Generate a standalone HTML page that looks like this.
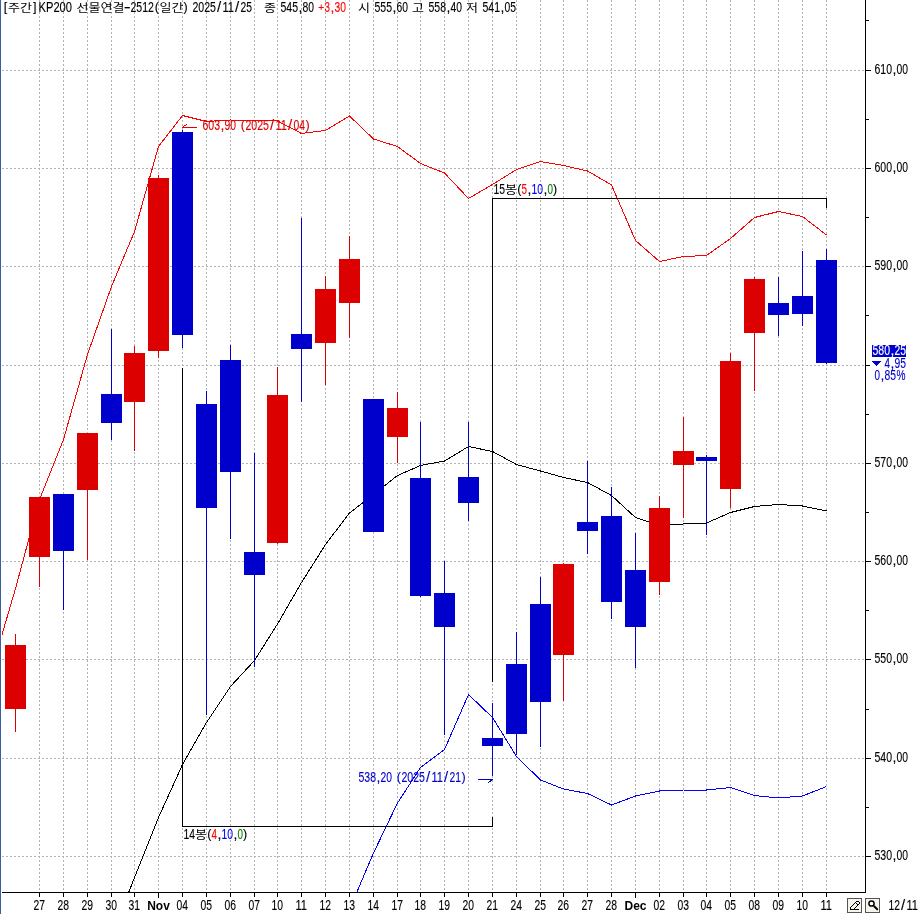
<!DOCTYPE html>
<html lang="ko"><head><meta charset="utf-8"><title>KP200 선물연결 주간 차트</title>
<style>html,body{margin:0;padding:0;background:#fff}body{width:920px;height:914px;overflow:hidden}svg{display:block}text{font-family:"Liberation Sans","Noto Sans CJK KR",sans-serif;font-size:14px}.k{font-family:"Liberation Sans","Noto Sans CJK KR",sans-serif;font-size:11.5px}.b{font-weight:bold;font-size:12px}</style></head><body>
<svg width="920" height="914" viewBox="0 0 920 914">
<rect width="920" height="914" fill="#fff"/>
<defs><clipPath id="cp"><rect x="2" y="0" width="863" height="892"/></clipPath></defs>
<g shape-rendering="crispEdges">
<rect x="0" y="0" width="1" height="914" fill="#3b5fa3"/>
<g stroke="#b2b2b2" stroke-width="1" stroke-dasharray="2 2" fill="none">
<line x1="2" y1="70.5" x2="865" y2="70.5"/>
<line x1="2" y1="168.5" x2="865" y2="168.5"/>
<line x1="2" y1="266.5" x2="865" y2="266.5"/>
<line x1="2" y1="365.5" x2="865" y2="365.5"/>
<line x1="2" y1="463.5" x2="865" y2="463.5"/>
<line x1="2" y1="561.5" x2="865" y2="561.5"/>
<line x1="2" y1="659.5" x2="865" y2="659.5"/>
<line x1="2" y1="758.5" x2="865" y2="758.5"/>
<line x1="2" y1="856.5" x2="865" y2="856.5"/>
<line x1="39.5" y1="0" x2="39.5" y2="892"/>
<line x1="63.5" y1="0" x2="63.5" y2="892"/>
<line x1="87.5" y1="0" x2="87.5" y2="892"/>
<line x1="111.5" y1="0" x2="111.5" y2="892"/>
<line x1="134.5" y1="0" x2="134.5" y2="892"/>
<line x1="158.5" y1="0" x2="158.5" y2="892"/>
<line x1="182.5" y1="0" x2="182.5" y2="892"/>
<line x1="206.5" y1="0" x2="206.5" y2="892"/>
<line x1="230.5" y1="0" x2="230.5" y2="892"/>
<line x1="254.5" y1="0" x2="254.5" y2="892"/>
<line x1="277.5" y1="0" x2="277.5" y2="892"/>
<line x1="301.5" y1="0" x2="301.5" y2="892"/>
<line x1="325.5" y1="0" x2="325.5" y2="892"/>
<line x1="349.5" y1="0" x2="349.5" y2="892"/>
<line x1="373.5" y1="0" x2="373.5" y2="892"/>
<line x1="397.5" y1="0" x2="397.5" y2="892"/>
<line x1="420.5" y1="0" x2="420.5" y2="892"/>
<line x1="444.5" y1="0" x2="444.5" y2="892"/>
<line x1="468.5" y1="0" x2="468.5" y2="892"/>
<line x1="492.5" y1="0" x2="492.5" y2="892"/>
<line x1="516.5" y1="0" x2="516.5" y2="892"/>
<line x1="540.5" y1="0" x2="540.5" y2="892"/>
<line x1="563.5" y1="0" x2="563.5" y2="892"/>
<line x1="587.5" y1="0" x2="587.5" y2="892"/>
<line x1="611.5" y1="0" x2="611.5" y2="892"/>
<line x1="635.5" y1="0" x2="635.5" y2="892"/>
<line x1="659.5" y1="0" x2="659.5" y2="892"/>
<line x1="683.5" y1="0" x2="683.5" y2="892"/>
<line x1="706.5" y1="0" x2="706.5" y2="892"/>
<line x1="730.5" y1="0" x2="730.5" y2="892"/>
<line x1="754.5" y1="0" x2="754.5" y2="892"/>
<line x1="778.5" y1="0" x2="778.5" y2="892"/>
<line x1="802.5" y1="0" x2="802.5" y2="892"/>
<line x1="826.5" y1="0" x2="826.5" y2="892"/>
</g>
<g clip-path="url(#cp)">
<polyline points="-8.5,670.5 15.5,588.5 39.5,499.5 63.5,439.5 87.5,354.5 111.5,286.5 134.5,231.5 158.5,146.5 182.5,115.5 206.5,121.5 230.5,120.0 254.5,120.5 277.5,121.0 301.5,133.5 325.5,130.5 349.5,116.0 373.5,139.0 397.5,146.5 420.5,163.5 444.5,173.0 468.5,198.5 492.5,184.5 516.5,169.5 540.5,161.5 563.5,165.5 587.5,171.0 611.5,185.0 635.5,240.5 659.5,261.5 683.5,256.5 706.5,255.5 730.5,238.5 754.5,217.5 778.5,211.5 802.5,216.5 826.5,235.0" fill="none" stroke="#ff0000" stroke-width="1" clip-path="url(#cp)"/>
<polyline points="111.5,936.5 134.5,877.5 158.5,817.5 182.5,764.5 206.5,722.5 230.5,686.5 254.5,660.5 277.5,624.0 301.5,582.5 325.5,544.5 349.5,513.0 373.5,494.5 397.5,475.5 420.5,465.5 444.5,461.0 468.5,446.5 492.5,451.5 516.5,464.5 540.5,471.0 563.5,477.5 587.5,482.5 611.5,495.5 635.5,517.5 659.5,525.5 683.5,524.0 706.5,523.0 730.5,512.5 754.5,506.5 778.5,504.5 802.5,506.0 826.5,511.0" fill="none" stroke="#000" stroke-width="1" clip-path="url(#cp)"/>
<polyline points="349.5,909.5 373.5,853.0 397.5,803.0 420.5,767.5 444.5,749.5 468.5,694.5 492.5,717.5 516.5,756.5 540.5,780.0 563.5,789.0 587.5,793.5 611.5,805.0 635.5,796.0 659.5,791.0 683.5,790.0 706.5,790.0 730.5,787.5 754.5,795.5 778.5,798.0 802.5,796.0 826.5,786.5" fill="none" stroke="#0000ff" stroke-width="1" clip-path="url(#cp)"/>
</g>
<rect x="15" y="634" width="1" height="98" fill="#dd0000"/>
<rect x="5" y="645" width="21" height="64" fill="#dd0000"/>
<rect x="39" y="497" width="1" height="90" fill="#dd0000"/>
<rect x="29" y="497" width="21" height="60" fill="#dd0000"/>
<rect x="63" y="494" width="1" height="116" fill="#0000cc"/>
<rect x="53" y="494" width="21" height="57" fill="#0000cc"/>
<rect x="87" y="433" width="1" height="127" fill="#dd0000"/>
<rect x="77" y="433" width="21" height="57" fill="#dd0000"/>
<rect x="111" y="329" width="1" height="111" fill="#0000cc"/>
<rect x="101" y="394" width="21" height="29" fill="#0000cc"/>
<rect x="134" y="346" width="1" height="105" fill="#dd0000"/>
<rect x="124" y="353" width="21" height="49" fill="#dd0000"/>
<rect x="158" y="175" width="1" height="183" fill="#dd0000"/>
<rect x="148" y="178" width="21" height="173" fill="#dd0000"/>
<rect x="182" y="130" width="1" height="218" fill="#0000cc"/>
<rect x="172" y="132" width="21" height="203" fill="#0000cc"/>
<rect x="206" y="391" width="1" height="324" fill="#0000cc"/>
<rect x="196" y="404" width="21" height="104" fill="#0000cc"/>
<rect x="230" y="345" width="1" height="194" fill="#0000cc"/>
<rect x="220" y="360" width="21" height="112" fill="#0000cc"/>
<rect x="254" y="453" width="1" height="214" fill="#0000cc"/>
<rect x="244" y="552" width="21" height="23" fill="#0000cc"/>
<rect x="277" y="367" width="1" height="177" fill="#dd0000"/>
<rect x="267" y="395" width="21" height="148" fill="#dd0000"/>
<rect x="301" y="218" width="1" height="184" fill="#0000cc"/>
<rect x="291" y="334" width="21" height="15" fill="#0000cc"/>
<rect x="325" y="276" width="1" height="109" fill="#dd0000"/>
<rect x="315" y="289" width="21" height="54" fill="#dd0000"/>
<rect x="349" y="236" width="1" height="102" fill="#dd0000"/>
<rect x="339" y="259" width="21" height="44" fill="#dd0000"/>
<rect x="373" y="399" width="1" height="133" fill="#0000cc"/>
<rect x="363" y="399" width="21" height="133" fill="#0000cc"/>
<rect x="397" y="392" width="1" height="71" fill="#dd0000"/>
<rect x="387" y="408" width="21" height="29" fill="#dd0000"/>
<rect x="420" y="422" width="1" height="175" fill="#0000cc"/>
<rect x="410" y="478" width="21" height="118" fill="#0000cc"/>
<rect x="444" y="561" width="1" height="174" fill="#0000cc"/>
<rect x="434" y="593" width="21" height="34" fill="#0000cc"/>
<rect x="468" y="422" width="1" height="99" fill="#0000cc"/>
<rect x="458" y="477" width="21" height="26" fill="#0000cc"/>
<rect x="492" y="703" width="1" height="73" fill="#0000cc"/>
<rect x="482" y="738" width="21" height="8" fill="#0000cc"/>
<rect x="516" y="632" width="1" height="123" fill="#0000cc"/>
<rect x="506" y="664" width="21" height="70" fill="#0000cc"/>
<rect x="540" y="577" width="1" height="170" fill="#0000cc"/>
<rect x="530" y="604" width="21" height="98" fill="#0000cc"/>
<rect x="563" y="563" width="1" height="138" fill="#dd0000"/>
<rect x="553" y="564" width="21" height="91" fill="#dd0000"/>
<rect x="587" y="461" width="1" height="93" fill="#0000cc"/>
<rect x="577" y="522" width="21" height="9" fill="#0000cc"/>
<rect x="611" y="487" width="1" height="132" fill="#0000cc"/>
<rect x="601" y="516" width="21" height="86" fill="#0000cc"/>
<rect x="635" y="533" width="1" height="135" fill="#0000cc"/>
<rect x="625" y="570" width="21" height="57" fill="#0000cc"/>
<rect x="659" y="496" width="1" height="99" fill="#dd0000"/>
<rect x="649" y="508" width="21" height="74" fill="#dd0000"/>
<rect x="683" y="417" width="1" height="101" fill="#dd0000"/>
<rect x="673" y="451" width="21" height="14" fill="#dd0000"/>
<rect x="706" y="455" width="1" height="80" fill="#0000cc"/>
<rect x="696" y="457" width="21" height="4" fill="#0000cc"/>
<rect x="730" y="353" width="1" height="155" fill="#dd0000"/>
<rect x="720" y="361" width="21" height="128" fill="#dd0000"/>
<rect x="754" y="277" width="1" height="114" fill="#dd0000"/>
<rect x="744" y="279" width="21" height="54" fill="#dd0000"/>
<rect x="778" y="277" width="1" height="59" fill="#0000cc"/>
<rect x="768" y="303" width="21" height="12" fill="#0000cc"/>
<rect x="802" y="251" width="1" height="75" fill="#0000cc"/>
<rect x="792" y="296" width="21" height="18" fill="#0000cc"/>
<rect x="826" y="249" width="1" height="115" fill="#0000cc"/>
<rect x="816" y="260" width="21" height="103" fill="#0000cc"/>
<g fill="#000">
<rect x="182" y="368" width="1" height="459"/>
<rect x="182" y="826" width="311" height="1"/>
<rect x="492" y="817" width="1" height="10"/>
<rect x="492" y="198" width="1" height="484"/>
<rect x="492" y="198" width="335" height="1"/>
<rect x="826" y="198" width="1" height="10"/>
<rect x="865" y="0" width="1" height="893"/>
<rect x="2" y="892" width="864" height="1"/>
<rect x="866" y="20" width="3" height="1"/>
<rect x="866" y="70" width="5" height="1"/>
<rect x="866" y="119" width="3" height="1"/>
<rect x="866" y="168" width="5" height="1"/>
<rect x="866" y="217" width="3" height="1"/>
<rect x="866" y="266" width="5" height="1"/>
<rect x="866" y="315" width="3" height="1"/>
<rect x="866" y="365" width="4" height="1"/>
<rect x="866" y="414" width="3" height="1"/>
<rect x="866" y="463" width="5" height="1"/>
<rect x="866" y="512" width="3" height="1"/>
<rect x="866" y="561" width="5" height="1"/>
<rect x="866" y="610" width="3" height="1"/>
<rect x="866" y="659" width="5" height="1"/>
<rect x="866" y="709" width="3" height="1"/>
<rect x="866" y="758" width="5" height="1"/>
<rect x="866" y="807" width="3" height="1"/>
<rect x="866" y="856" width="5" height="1"/>
<rect x="39" y="893" width="1" height="4"/>
<rect x="63" y="893" width="1" height="4"/>
<rect x="87" y="893" width="1" height="4"/>
<rect x="111" y="893" width="1" height="4"/>
<rect x="134" y="893" width="1" height="4"/>
<rect x="158" y="893" width="1" height="5"/>
<rect x="182" y="893" width="1" height="4"/>
<rect x="206" y="893" width="1" height="4"/>
<rect x="230" y="893" width="1" height="4"/>
<rect x="254" y="893" width="1" height="4"/>
<rect x="277" y="893" width="1" height="4"/>
<rect x="301" y="893" width="1" height="4"/>
<rect x="325" y="893" width="1" height="4"/>
<rect x="349" y="893" width="1" height="4"/>
<rect x="373" y="893" width="1" height="4"/>
<rect x="397" y="893" width="1" height="4"/>
<rect x="420" y="893" width="1" height="4"/>
<rect x="444" y="893" width="1" height="4"/>
<rect x="468" y="893" width="1" height="4"/>
<rect x="492" y="893" width="1" height="4"/>
<rect x="516" y="893" width="1" height="4"/>
<rect x="540" y="893" width="1" height="4"/>
<rect x="563" y="893" width="1" height="4"/>
<rect x="587" y="893" width="1" height="4"/>
<rect x="611" y="893" width="1" height="4"/>
<rect x="635" y="893" width="1" height="5"/>
<rect x="659" y="893" width="1" height="4"/>
<rect x="683" y="893" width="1" height="4"/>
<rect x="706" y="893" width="1" height="4"/>
<rect x="730" y="893" width="1" height="4"/>
<rect x="754" y="893" width="1" height="4"/>
<rect x="778" y="893" width="1" height="4"/>
<rect x="802" y="893" width="1" height="4"/>
<rect x="826" y="893" width="1" height="4"/>
</g>
<rect x="872" y="345" width="34" height="12" fill="#0000cc"/>
<path d="M872 361h9v1h-1v1h-1v1h-1v1h-1v1h-1v-1h-1v-1h-1v-1h-1v-1h-1z" fill="#0000cc"/>
<g fill="#dd0000"><rect x="182" y="127" width="15" height="1"/><rect x="183" y="126" width="1" height="1"/><rect x="184" y="125" width="2" height="1"/><rect x="186" y="124" width="1" height="1"/></g>
<g fill="#0000cc"><rect x="478" y="779" width="15" height="1"/><rect x="490" y="780" width="2" height="1"/><rect x="489" y="781" width="2" height="1"/><rect x="488" y="782" width="1" height="1"/></g>
<rect x="847" y="898" width="15" height="15" fill="#555"/>
<rect x="848" y="899" width="13" height="13" fill="#f4f3ec"/>
<rect x="865" y="898" width="15" height="15" fill="#555"/>
<rect x="866" y="899" width="13" height="13" fill="#f4f3ec"/>
</g>
<g fill="none" stroke="#000" stroke-width="1" shape-rendering="crispEdges">
<path d="M850.5 909.5H859M850.5 909.5V907.5L856.5 901.5H858.5L859.5 902.5V903.5L853.5 909.5M855.5 902.5L858.5 905.5"/>
</g>
<circle cx="871.5" cy="903.5" r="2.6" fill="#fff" stroke="#000" stroke-width="1.5"/>
<path d="M874.2 906.2L877.2 909.2" stroke="#000" stroke-width="2" stroke-linecap="round"/>
<text><tspan x="3.7" y="10.9" stroke="#000" stroke-width="0.12" style="font-size:12.5px">[</tspan><tspan x="8" y="11.5" textLength="24" lengthAdjust="spacingAndGlyphs" class="k">주간</tspan><tspan x="32.9" y="10.9" stroke="#000" stroke-width="0.12" style="font-size:12.5px">]</tspan><tspan x="38.5" y="12" textLength="33.5" lengthAdjust="spacingAndGlyphs" stroke="#000" stroke-width="0.12">KP200</tspan> <tspan x="76.5" y="11.5" textLength="48" lengthAdjust="spacingAndGlyphs" class="k">선물연결</tspan><tspan x="123.7" y="12" textLength="7" lengthAdjust="spacingAndGlyphs" stroke="#000" stroke-width="0.12">-</tspan><tspan x="130.5" y="12" textLength="23.5" lengthAdjust="spacingAndGlyphs" stroke="#000" stroke-width="0.12">2512</tspan><tspan x="154.7" y="10.9" stroke="#000" stroke-width="0.12" style="font-size:12.5px">(</tspan><tspan x="159.5" y="11.5" textLength="24" lengthAdjust="spacingAndGlyphs" class="k">일간</tspan><tspan x="183.6" y="10.9" stroke="#000" stroke-width="0.12" style="font-size:12.5px">)</tspan> <tspan x="192.5" y="12" textLength="23.5" lengthAdjust="spacingAndGlyphs" stroke="#000" stroke-width="0.12">2025</tspan><tspan x="216.9" y="12" stroke="#000" stroke-width="0.12" style="font-size:15px">/</tspan><tspan x="222.5" y="12" textLength="11.5" lengthAdjust="spacingAndGlyphs" stroke="#000" stroke-width="0.12">11</tspan><tspan x="234.9" y="12" stroke="#000" stroke-width="0.12" style="font-size:15px">/</tspan><tspan x="240.5" y="12" textLength="11.5" lengthAdjust="spacingAndGlyphs" stroke="#000" stroke-width="0.12">25</tspan>   <tspan x="264" y="11.5" textLength="12" lengthAdjust="spacingAndGlyphs" class="k">종</tspan> <tspan x="280.5" y="12" textLength="17.5" lengthAdjust="spacingAndGlyphs" stroke="#000" stroke-width="0.12">545</tspan><tspan x="298.5" y="12" stroke="#000" stroke-width="0.12">,</tspan><tspan x="302.5" y="12" textLength="11.5" lengthAdjust="spacingAndGlyphs" stroke="#000" stroke-width="0.12">80</tspan> <tspan x="318.2" y="11" fill="#ff0000" stroke="#ff0000" stroke-width="0.12" style="font-size:10px">+</tspan><tspan x="324.5" y="12" textLength="5.5" lengthAdjust="spacingAndGlyphs" fill="#ff0000" stroke="#ff0000" stroke-width="0.12">3</tspan><tspan x="330.5" y="12" fill="#ff0000" stroke="#ff0000" stroke-width="0.12">,</tspan><tspan x="334.5" y="12" textLength="11.5" lengthAdjust="spacingAndGlyphs" fill="#ff0000" stroke="#ff0000" stroke-width="0.12">30</tspan>   <tspan x="358" y="11.5" textLength="12" lengthAdjust="spacingAndGlyphs" class="k">시</tspan> <tspan x="374.5" y="12" textLength="17.5" lengthAdjust="spacingAndGlyphs" stroke="#000" stroke-width="0.12">555</tspan><tspan x="392.5" y="12" stroke="#000" stroke-width="0.12">,</tspan><tspan x="396.5" y="12" textLength="11.5" lengthAdjust="spacingAndGlyphs" stroke="#000" stroke-width="0.12">60</tspan> <tspan x="412" y="11.5" textLength="12" lengthAdjust="spacingAndGlyphs" class="k">고</tspan> <tspan x="428.5" y="12" textLength="17.5" lengthAdjust="spacingAndGlyphs" stroke="#000" stroke-width="0.12">558</tspan><tspan x="446.5" y="12" stroke="#000" stroke-width="0.12">,</tspan><tspan x="450.5" y="12" textLength="11.5" lengthAdjust="spacingAndGlyphs" stroke="#000" stroke-width="0.12">40</tspan> <tspan x="466" y="11.5" textLength="12" lengthAdjust="spacingAndGlyphs" class="k">저</tspan> <tspan x="482.5" y="12" textLength="17.5" lengthAdjust="spacingAndGlyphs" stroke="#000" stroke-width="0.12">541</tspan><tspan x="500.5" y="12" stroke="#000" stroke-width="0.12">,</tspan><tspan x="504.5" y="12" textLength="11.5" lengthAdjust="spacingAndGlyphs" stroke="#000" stroke-width="0.12">05</tspan></text>
<text><tspan x="874.5" y="74" textLength="17.5" lengthAdjust="spacingAndGlyphs" stroke="#000" stroke-width="0.12">610</tspan><tspan x="892.5" y="74" stroke="#000" stroke-width="0.12">,</tspan><tspan x="896.5" y="74" textLength="11.5" lengthAdjust="spacingAndGlyphs" stroke="#000" stroke-width="0.12">00</tspan></text>
<text><tspan x="874.5" y="172" textLength="17.5" lengthAdjust="spacingAndGlyphs" stroke="#000" stroke-width="0.12">600</tspan><tspan x="892.5" y="172" stroke="#000" stroke-width="0.12">,</tspan><tspan x="896.5" y="172" textLength="11.5" lengthAdjust="spacingAndGlyphs" stroke="#000" stroke-width="0.12">00</tspan></text>
<text><tspan x="874.5" y="270" textLength="17.5" lengthAdjust="spacingAndGlyphs" stroke="#000" stroke-width="0.12">590</tspan><tspan x="892.5" y="270" stroke="#000" stroke-width="0.12">,</tspan><tspan x="896.5" y="270" textLength="11.5" lengthAdjust="spacingAndGlyphs" stroke="#000" stroke-width="0.12">00</tspan></text>
<text><tspan x="874.5" y="467" textLength="17.5" lengthAdjust="spacingAndGlyphs" stroke="#000" stroke-width="0.12">570</tspan><tspan x="892.5" y="467" stroke="#000" stroke-width="0.12">,</tspan><tspan x="896.5" y="467" textLength="11.5" lengthAdjust="spacingAndGlyphs" stroke="#000" stroke-width="0.12">00</tspan></text>
<text><tspan x="874.5" y="565" textLength="17.5" lengthAdjust="spacingAndGlyphs" stroke="#000" stroke-width="0.12">560</tspan><tspan x="892.5" y="565" stroke="#000" stroke-width="0.12">,</tspan><tspan x="896.5" y="565" textLength="11.5" lengthAdjust="spacingAndGlyphs" stroke="#000" stroke-width="0.12">00</tspan></text>
<text><tspan x="874.5" y="663" textLength="17.5" lengthAdjust="spacingAndGlyphs" stroke="#000" stroke-width="0.12">550</tspan><tspan x="892.5" y="663" stroke="#000" stroke-width="0.12">,</tspan><tspan x="896.5" y="663" textLength="11.5" lengthAdjust="spacingAndGlyphs" stroke="#000" stroke-width="0.12">00</tspan></text>
<text><tspan x="874.5" y="762" textLength="17.5" lengthAdjust="spacingAndGlyphs" stroke="#000" stroke-width="0.12">540</tspan><tspan x="892.5" y="762" stroke="#000" stroke-width="0.12">,</tspan><tspan x="896.5" y="762" textLength="11.5" lengthAdjust="spacingAndGlyphs" stroke="#000" stroke-width="0.12">00</tspan></text>
<text><tspan x="874.5" y="860" textLength="17.5" lengthAdjust="spacingAndGlyphs" stroke="#000" stroke-width="0.12">530</tspan><tspan x="892.5" y="860" stroke="#000" stroke-width="0.12">,</tspan><tspan x="896.5" y="860" textLength="11.5" lengthAdjust="spacingAndGlyphs" stroke="#000" stroke-width="0.12">00</tspan></text>
<defs><clipPath id="bx"><rect x="872" y="345" width="34" height="12"/></clipPath></defs>
<text clip-path="url(#bx)"><tspan x="872.5" y="355" textLength="17.5" lengthAdjust="spacingAndGlyphs" fill="#fff" stroke="#fff" stroke-width="0.12">580</tspan><tspan x="890.5" y="355" fill="#fff" stroke="#fff" stroke-width="0.12">,</tspan><tspan x="894.5" y="355" textLength="11.5" lengthAdjust="spacingAndGlyphs" fill="#fff" stroke="#fff" stroke-width="0.12">25</tspan></text>
<text><tspan x="884.5" y="368" textLength="5.5" lengthAdjust="spacingAndGlyphs" fill="#0000cc" stroke="#0000cc" stroke-width="0.12">4</tspan><tspan x="890.5" y="368" fill="#0000cc" stroke="#0000cc" stroke-width="0.12">,</tspan><tspan x="894.5" y="368" textLength="11.5" lengthAdjust="spacingAndGlyphs" fill="#0000cc" stroke="#0000cc" stroke-width="0.12">95</tspan></text>
<text><tspan x="874.5" y="380" textLength="5.5" lengthAdjust="spacingAndGlyphs" fill="#0000cc" stroke="#0000cc" stroke-width="0.12">0</tspan><tspan x="880.5" y="380" fill="#0000cc" stroke="#0000cc" stroke-width="0.12">,</tspan><tspan x="884.5" y="380" textLength="11.5" lengthAdjust="spacingAndGlyphs" fill="#0000cc" stroke="#0000cc" stroke-width="0.12">85</tspan><tspan x="896.5" y="380" textLength="9" lengthAdjust="spacingAndGlyphs" fill="#0000cc" stroke="#0000cc" stroke-width="0.12">%</tspan></text>
<text><tspan x="33.5" y="910" textLength="11.5" lengthAdjust="spacingAndGlyphs" stroke="#000" stroke-width="0.12">27</tspan></text>
<text><tspan x="57.5" y="910" textLength="11.5" lengthAdjust="spacingAndGlyphs" stroke="#000" stroke-width="0.12">28</tspan></text>
<text><tspan x="81.5" y="910" textLength="11.5" lengthAdjust="spacingAndGlyphs" stroke="#000" stroke-width="0.12">29</tspan></text>
<text><tspan x="105.5" y="910" textLength="11.5" lengthAdjust="spacingAndGlyphs" stroke="#000" stroke-width="0.12">30</tspan></text>
<text><tspan x="128.5" y="910" textLength="11.5" lengthAdjust="spacingAndGlyphs" stroke="#000" stroke-width="0.12">31</tspan></text>
<text x="158.5" y="909.5" class="b" text-anchor="middle">Nov</text>
<text><tspan x="176.5" y="910" textLength="11.5" lengthAdjust="spacingAndGlyphs" stroke="#000" stroke-width="0.12">04</tspan></text>
<text><tspan x="200.5" y="910" textLength="11.5" lengthAdjust="spacingAndGlyphs" stroke="#000" stroke-width="0.12">05</tspan></text>
<text><tspan x="224.5" y="910" textLength="11.5" lengthAdjust="spacingAndGlyphs" stroke="#000" stroke-width="0.12">06</tspan></text>
<text><tspan x="248.5" y="910" textLength="11.5" lengthAdjust="spacingAndGlyphs" stroke="#000" stroke-width="0.12">07</tspan></text>
<text><tspan x="271.5" y="910" textLength="11.5" lengthAdjust="spacingAndGlyphs" stroke="#000" stroke-width="0.12">10</tspan></text>
<text><tspan x="295.5" y="910" textLength="11.5" lengthAdjust="spacingAndGlyphs" stroke="#000" stroke-width="0.12">11</tspan></text>
<text><tspan x="319.5" y="910" textLength="11.5" lengthAdjust="spacingAndGlyphs" stroke="#000" stroke-width="0.12">12</tspan></text>
<text><tspan x="343.5" y="910" textLength="11.5" lengthAdjust="spacingAndGlyphs" stroke="#000" stroke-width="0.12">13</tspan></text>
<text><tspan x="367.5" y="910" textLength="11.5" lengthAdjust="spacingAndGlyphs" stroke="#000" stroke-width="0.12">14</tspan></text>
<text><tspan x="391.5" y="910" textLength="11.5" lengthAdjust="spacingAndGlyphs" stroke="#000" stroke-width="0.12">17</tspan></text>
<text><tspan x="414.5" y="910" textLength="11.5" lengthAdjust="spacingAndGlyphs" stroke="#000" stroke-width="0.12">18</tspan></text>
<text><tspan x="438.5" y="910" textLength="11.5" lengthAdjust="spacingAndGlyphs" stroke="#000" stroke-width="0.12">19</tspan></text>
<text><tspan x="462.5" y="910" textLength="11.5" lengthAdjust="spacingAndGlyphs" stroke="#000" stroke-width="0.12">20</tspan></text>
<text><tspan x="486.5" y="910" textLength="11.5" lengthAdjust="spacingAndGlyphs" stroke="#000" stroke-width="0.12">21</tspan></text>
<text><tspan x="510.5" y="910" textLength="11.5" lengthAdjust="spacingAndGlyphs" stroke="#000" stroke-width="0.12">24</tspan></text>
<text><tspan x="534.5" y="910" textLength="11.5" lengthAdjust="spacingAndGlyphs" stroke="#000" stroke-width="0.12">25</tspan></text>
<text><tspan x="557.5" y="910" textLength="11.5" lengthAdjust="spacingAndGlyphs" stroke="#000" stroke-width="0.12">26</tspan></text>
<text><tspan x="581.5" y="910" textLength="11.5" lengthAdjust="spacingAndGlyphs" stroke="#000" stroke-width="0.12">27</tspan></text>
<text><tspan x="605.5" y="910" textLength="11.5" lengthAdjust="spacingAndGlyphs" stroke="#000" stroke-width="0.12">28</tspan></text>
<text x="635.5" y="909.5" class="b" text-anchor="middle">Dec</text>
<text><tspan x="653.5" y="910" textLength="11.5" lengthAdjust="spacingAndGlyphs" stroke="#000" stroke-width="0.12">02</tspan></text>
<text><tspan x="677.5" y="910" textLength="11.5" lengthAdjust="spacingAndGlyphs" stroke="#000" stroke-width="0.12">03</tspan></text>
<text><tspan x="700.5" y="910" textLength="11.5" lengthAdjust="spacingAndGlyphs" stroke="#000" stroke-width="0.12">04</tspan></text>
<text><tspan x="724.5" y="910" textLength="11.5" lengthAdjust="spacingAndGlyphs" stroke="#000" stroke-width="0.12">05</tspan></text>
<text><tspan x="748.5" y="910" textLength="11.5" lengthAdjust="spacingAndGlyphs" stroke="#000" stroke-width="0.12">08</tspan></text>
<text><tspan x="772.5" y="910" textLength="11.5" lengthAdjust="spacingAndGlyphs" stroke="#000" stroke-width="0.12">09</tspan></text>
<text><tspan x="796.5" y="910" textLength="11.5" lengthAdjust="spacingAndGlyphs" stroke="#000" stroke-width="0.12">10</tspan></text>
<text><tspan x="820.5" y="910" textLength="11.5" lengthAdjust="spacingAndGlyphs" stroke="#000" stroke-width="0.12">11</tspan></text>
<text><tspan x="888.5" y="910" textLength="11.5" lengthAdjust="spacingAndGlyphs" stroke="#000" stroke-width="0.12">12</tspan><tspan x="900.9" y="910" stroke="#000" stroke-width="0.12" style="font-size:15px">/</tspan><tspan x="906.5" y="910" textLength="11.5" lengthAdjust="spacingAndGlyphs" stroke="#000" stroke-width="0.12">11</tspan></text>
<text><tspan x="202.5" y="130" textLength="17.5" lengthAdjust="spacingAndGlyphs" fill="#dd0000" stroke="#dd0000" stroke-width="0.12">603</tspan><tspan x="220.5" y="130" fill="#dd0000" stroke="#dd0000" stroke-width="0.12">,</tspan><tspan x="224.5" y="130" textLength="11.5" lengthAdjust="spacingAndGlyphs" fill="#dd0000" stroke="#dd0000" stroke-width="0.12">90</tspan> <tspan x="240.7" y="128.9" fill="#dd0000" stroke="#dd0000" stroke-width="0.12" style="font-size:12.5px">(</tspan><tspan x="245.5" y="130" textLength="23.5" lengthAdjust="spacingAndGlyphs" fill="#dd0000" stroke="#dd0000" stroke-width="0.12">2025</tspan><tspan x="269.9" y="130" fill="#dd0000" stroke="#dd0000" stroke-width="0.12" style="font-size:15px">/</tspan><tspan x="275.5" y="130" textLength="11.5" lengthAdjust="spacingAndGlyphs" fill="#dd0000" stroke="#dd0000" stroke-width="0.12">11</tspan><tspan x="287.9" y="130" fill="#dd0000" stroke="#dd0000" stroke-width="0.12" style="font-size:15px">/</tspan><tspan x="293.5" y="130" textLength="11.5" lengthAdjust="spacingAndGlyphs" fill="#dd0000" stroke="#dd0000" stroke-width="0.12">04</tspan><tspan x="305.6" y="128.9" fill="#dd0000" stroke="#dd0000" stroke-width="0.12" style="font-size:12.5px">)</tspan></text>
<text><tspan x="358.5" y="782" textLength="17.5" lengthAdjust="spacingAndGlyphs" fill="#0000cc" stroke="#0000cc" stroke-width="0.12">538</tspan><tspan x="376.5" y="782" fill="#0000cc" stroke="#0000cc" stroke-width="0.12">,</tspan><tspan x="380.5" y="782" textLength="11.5" lengthAdjust="spacingAndGlyphs" fill="#0000cc" stroke="#0000cc" stroke-width="0.12">20</tspan> <tspan x="396.7" y="780.9" fill="#0000cc" stroke="#0000cc" stroke-width="0.12" style="font-size:12.5px">(</tspan><tspan x="401.5" y="782" textLength="23.5" lengthAdjust="spacingAndGlyphs" fill="#0000cc" stroke="#0000cc" stroke-width="0.12">2025</tspan><tspan x="425.9" y="782" fill="#0000cc" stroke="#0000cc" stroke-width="0.12" style="font-size:15px">/</tspan><tspan x="431.5" y="782" textLength="11.5" lengthAdjust="spacingAndGlyphs" fill="#0000cc" stroke="#0000cc" stroke-width="0.12">11</tspan><tspan x="443.9" y="782" fill="#0000cc" stroke="#0000cc" stroke-width="0.12" style="font-size:15px">/</tspan><tspan x="449.5" y="782" textLength="11.5" lengthAdjust="spacingAndGlyphs" fill="#0000cc" stroke="#0000cc" stroke-width="0.12">21</tspan><tspan x="461.6" y="780.9" fill="#0000cc" stroke="#0000cc" stroke-width="0.12" style="font-size:12.5px">)</tspan></text>
<text><tspan x="493.5" y="194" textLength="11.5" lengthAdjust="spacingAndGlyphs" stroke="#000" stroke-width="0.12">15</tspan><tspan x="505" y="193.5" textLength="12" lengthAdjust="spacingAndGlyphs" class="k">봉</tspan><tspan x="517.2" y="192.9" stroke="#000" stroke-width="0.12" style="font-size:12.5px">(</tspan><tspan x="521.5" y="194" textLength="5.5" lengthAdjust="spacingAndGlyphs" fill="#ff0000" stroke="#ff0000" stroke-width="0.12">5</tspan><tspan x="527.5" y="194" stroke="#000" stroke-width="0.12">,</tspan><tspan x="531.5" y="194" textLength="11.5" lengthAdjust="spacingAndGlyphs" fill="#0000ff" stroke="#0000ff" stroke-width="0.12">10</tspan><tspan x="543.5" y="194" stroke="#000" stroke-width="0.12">,</tspan><tspan x="547.5" y="194" textLength="5.5" lengthAdjust="spacingAndGlyphs" fill="#008000" stroke="#008000" stroke-width="0.12">0</tspan><tspan x="553.1" y="192.9" stroke="#000" stroke-width="0.12" style="font-size:12.5px">)</tspan></text>
<text><tspan x="183.5" y="839" textLength="11.5" lengthAdjust="spacingAndGlyphs" stroke="#000" stroke-width="0.12">14</tspan><tspan x="195" y="838.5" textLength="12" lengthAdjust="spacingAndGlyphs" class="k">봉</tspan><tspan x="207.2" y="837.9" stroke="#000" stroke-width="0.12" style="font-size:12.5px">(</tspan><tspan x="211.5" y="839" textLength="5.5" lengthAdjust="spacingAndGlyphs" fill="#ff0000" stroke="#ff0000" stroke-width="0.12">4</tspan><tspan x="217.5" y="839" stroke="#000" stroke-width="0.12">,</tspan><tspan x="221.5" y="839" textLength="11.5" lengthAdjust="spacingAndGlyphs" fill="#0000ff" stroke="#0000ff" stroke-width="0.12">10</tspan><tspan x="233.5" y="839" stroke="#000" stroke-width="0.12">,</tspan><tspan x="237.5" y="839" textLength="5.5" lengthAdjust="spacingAndGlyphs" fill="#008000" stroke="#008000" stroke-width="0.12">0</tspan><tspan x="243.1" y="837.9" stroke="#000" stroke-width="0.12" style="font-size:12.5px">)</tspan></text>
</svg></body></html>
